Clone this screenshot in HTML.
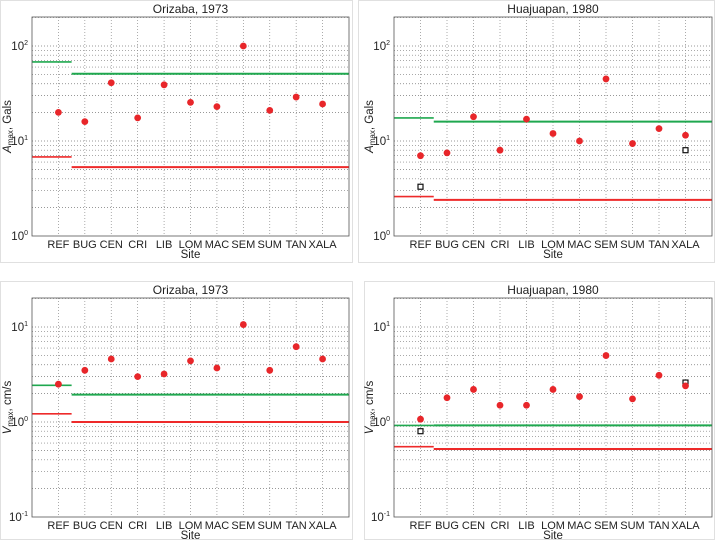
<!DOCTYPE html>
<html><head><meta charset="utf-8"><style>
html,body{margin:0;padding:0;background:#fff;}
svg{display:block;font-family:"Liberation Sans",sans-serif;}
</style></head><body>
<svg id="fig" width="715" height="540" viewBox="0 0 715 540" xmlns="http://www.w3.org/2000/svg"></svg>
<script>
const sites = ["REF","BUG","CEN","CRI","LIB","LOM","MAC","SEM","SUM","TAN","XALA"];
// Panel A: Orizaba Amax
const amaxOriz = [20,16,41,17.5,39,25.5,23,100,21,29,24.5];
const amaxOrizGreen = [68,51];
const amaxOrizRed = [6.8,5.3];
const amaxOrizSq = [];
// Panel B: Huajuapan Amax
const amaxHuaj = [7,7.5,18,8,17,12,10,45,9.4,13.5,11.5];
const amaxHuajGreen = [17.5,16];
const amaxHuajRed = [2.6,2.4];
const amaxHuajSq = [[0,3.3],[10,8]];
// Panel C: Orizaba Vmax
const vmaxOriz = [2.5,3.5,4.6,3.0,3.2,4.4,3.7,10.6,3.5,6.2,4.6];
const vmaxOrizGreen = [2.43,1.94];
const vmaxOrizRed = [1.22,1.0];
const vmaxOrizSq = [];
// Panel D: Huajuapan Vmax
const vmaxHuaj = [1.07,1.8,2.2,1.5,1.5,2.2,1.85,5,1.75,3.1,2.4];
const vmaxHuajGreen = [0.92,0.92];
const vmaxHuajRed = [0.55,0.52];
const vmaxHuajSq = [[0,0.8],[10,2.6]];

const NS="http://www.w3.org/2000/svg";
const svg=document.getElementById('fig');
function mk(tag,attrs,parent){const e=document.createElementNS(NS,tag);for(const k in attrs)e.setAttribute(k,attrs[k]);(parent||svg).appendChild(e);return e;}

function panel(o){
  const g=mk('g',{});
  
  
  const x0=o.x0,x1=o.x1,y0=o.y0,y1=o.y1;
  const lmin=o.lmin,lmax=o.lmax;
  const X=i=>x0+(i+1)*(x1-x0)/12;
  const Y=v=>y1-(Math.log10(v)-lmin)/(lmax-lmin)*(y1-y0);
  const fb=mk('rect',{x:o.fx,y:o.fy,width:o.fw,height:o.fh,fill:'none',stroke:'#e0e0e0','stroke-width':1},g);
  
  
  for(let d=Math.floor(lmin);d<Math.ceil(lmax);d++){
    for(let m=1;m<10;m++){
      const v=m*Math.pow(10,d);const lv=Math.log10(v);
      if(lv<=lmin+1e-9||lv>=lmax)continue;
      const y=Y(v);
      const l=mk('line',{x1:x0,x2:x1,y1:y,y2:y,stroke:'#777','stroke-width':0.7,'stroke-dasharray':'1,2'},g);
      
      
    }
  }
  sites.forEach((s,i)=>{
    const x=X(i);
    const l=mk('line',{x1:x,x2:x,y1:y0,y2:y1,stroke:'#888','stroke-width':0.7,'stroke-dasharray':'1,2'},g);
    
    
    const t=mk('text',{x:x,y:y1+12,'font-size':11,'text-anchor':'middle',fill:'#222'},g);
    t.textContent=s;
    
    
  });
  for(let d=Math.ceil(lmin);d<=Math.floor(lmax);d++){
    const y=Y(Math.pow(10,d));
    const t=mk('text',{x:x0-4,y:y+4,'font-size':11.5,'text-anchor':'end',fill:'#222'},g);
    t.innerHTML='10<tspan dy="-5" font-size="7">'+d+'</tspan>';
    
    
  }
  const xs=X(0)+(x1-x0)/24;
  [[o.green,'#1fa84f'],[o.red,'#ee2a2a']].forEach(([arr,c])=>{
    const a=mk('line',{x1:x0,x2:xs,y1:Y(arr[0]),y2:Y(arr[0]),stroke:c,'stroke-width':1.6},g);
    
    
    const b=mk('line',{x1:xs,x2:x1,y1:Y(arr[1]),y2:Y(arr[1]),stroke:c,'stroke-width':2},g);
    
    
  });
  o.sq.forEach(([i,v])=>{
    const r=mk('rect',{x:X(i)-2.5,y:Y(v)-2.5,width:5,height:5,fill:'#fff',stroke:'#111','stroke-width':1.2},g);
    
    
  });
  o.vals.forEach((v,i)=>{
    const c=mk('circle',{cx:X(i),cy:Y(v),r:3.4,fill:'#e8262a'},g);
    
    
  });
  const bx=mk('rect',{x:x0,y:y0,width:x1-x0,height:y1-y0,fill:'none',stroke:'#555','stroke-width':0.8},g);
  
  
  const tt=mk('text',{x:(x0+x1)/2,y:y0-4,'font-size':12,'text-anchor':'middle',fill:'#222'},g);
  tt.textContent=o.title;
  
  
  const xl=mk('text',{x:(x0+x1)/2,y:y1+22,'font-size':11.5,'text-anchor':'middle',fill:'#222'},g);
  xl.textContent='Site';
  
  
  const yc=(y0+y1)/2;
  const yl=mk('text',{x:0,y:0,'font-size':11.5,'text-anchor':'middle',fill:'#222',transform:'translate('+(x0-21)+','+yc+') rotate(-90)'},g);
  yl.innerHTML='<tspan font-style="italic">'+o.ysym+'</tspan><tspan font-size="8" dy="2">max</tspan><tspan dy="-2">, '+o.yunit+'</tspan>';
  
  
}
panel({name:'panel-orizaba-amax',title:'Orizaba, 1973',x0:32,x1:349,y0:17,y1:236,lmin:0,lmax:2.305,vals:amaxOriz,green:amaxOrizGreen,red:amaxOrizRed,sq:amaxOrizSq,ysym:'A',yunit:'Gals',fx:0.5,fy:0.5,fw:352,fh:262});
panel({name:'panel-huajuapan-amax',title:'Huajuapan, 1980',x0:394,x1:712,y0:17,y1:236,lmin:0,lmax:2.305,vals:amaxHuaj,green:amaxHuajGreen,red:amaxHuajRed,sq:amaxHuajSq,ysym:'A',yunit:'Gals',fx:358.5,fy:0.5,fw:356,fh:262});
panel({name:'panel-orizaba-vmax',title:'Orizaba, 1973',x0:32,x1:349,y0:298,y1:517,lmin:-1,lmax:1.305,vals:vmaxOriz,green:vmaxOrizGreen,red:vmaxOrizRed,sq:vmaxOrizSq,ysym:'V',yunit:'cm/s',fx:0.5,fy:281.5,fw:352,fh:258});
panel({name:'panel-huajuapan-vmax',title:'Huajuapan, 1980',x0:394,x1:712,y0:298,y1:517,lmin:-1,lmax:1.305,vals:vmaxHuaj,green:vmaxHuajGreen,red:vmaxHuajRed,sq:vmaxHuajSq,ysym:'V',yunit:'cm/s',fx:364.5,fy:281.5,fw:350,fh:258});
</script>
</body></html>
